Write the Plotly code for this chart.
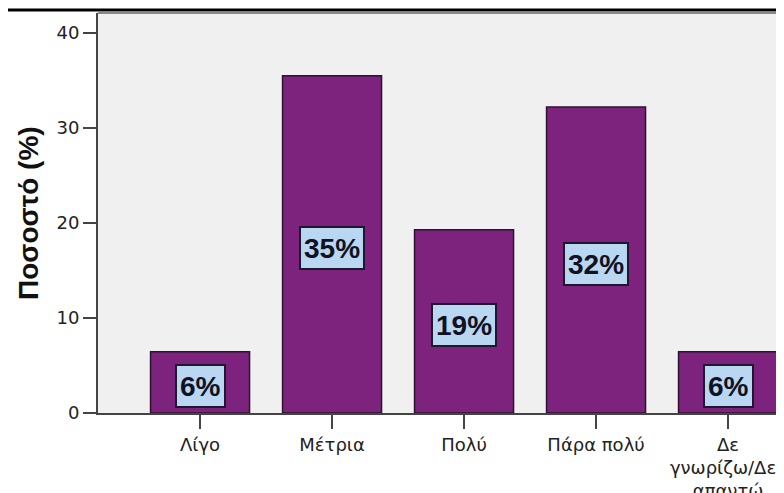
import plotly.graph_objects as go

categories = ["Λίγο", "Μέτρια", "Πολύ", "Πάρα πολύ", "Δε<br>γνωρίζω/Δεν<br>απαντώ"]
values = [6.45, 35.5, 19.3, 32.2, 6.45]
labels = ["6%", "35%", "19%", "32%", "6%"]
y_ticks = [0, 10, 20, 30, 40]
y_title = "Ποσοστό (%)"

# the page has an 8px body margin, so the figure is laid out in figure coords
OFF = 8
W, H = 784, 493 - OFF
ML, MT, MB = 98 - OFF, 13 - OFF, 80
PW = W - ML
PH = H - MT - MB
PX_PER_CAT = 132.0
PX_PER_UNIT = 9.5
TICK_FONT = "DejaVu Sans, Verdana, sans-serif"
BOLD_FONT = "Liberation Sans, Arial, sans-serif"

fig = go.Figure()
fig.add_trace(go.Bar(
    x=list(range(len(categories))),
    y=values,
    width=0.75,
    marker=dict(color="#7D237D", line=dict(color="#2A1430", width=1.5)),
    hoverinfo="skip",
))

for i, (v, t) in enumerate(zip(values, labels)):
    fig.add_annotation(
        x=i, y=v / 2, xref="x", yref="y", text=f"<b>{t}</b>",
        showarrow=False, yshift=-4, height=34,
        font=dict(family=BOLD_FONT, size=28, color="#111122"),
        bgcolor="#B9D7F0", bordercolor="#1C1830", borderwidth=2, borderpad=3,
    )

fig.add_annotation(
    x=(28 - OFF - ML) / PW, y=0.5, xref="paper", yref="paper", text=f"<b>{y_title}</b>",
    textangle=-90, showarrow=False, xanchor="center", yanchor="middle",
    font=dict(family=BOLD_FONT, size=28, color="#111111"),
)

# top black rule and plot top border
fig.add_shape(type="line", xref="paper", yref="paper",
              x0=-ML / PW, x1=1.0, y0=1 + (MT - 2) / PH, y1=1 + (MT - 2) / PH,
              line=dict(color="#000000", width=3))
fig.add_shape(type="line", xref="paper", yref="paper",
              x0=0, x1=1.0, y0=1, y1=1,
              line=dict(color="#888888", width=2))

fig.update_layout(
    width=W, height=H,
    margin=dict(l=ML, r=0, t=MT, b=MB, pad=0),
    paper_bgcolor="#FFFFFF", plot_bgcolor="#F0F0F0",
    showlegend=False,
    font=dict(family=TICK_FONT, size=18, color="#222222"),
)
fig.update_xaxes(
    range=[-0.773, -0.773 + PW / PX_PER_CAT],
    tickmode="array", tickvals=list(range(len(categories))), ticktext=categories,
    ticks="outside", ticklen=14, tickwidth=2, tickcolor="#444444",
    showline=True, linecolor="#444444", linewidth=2,
    showgrid=False, zeroline=False, fixedrange=True, automargin=False,
    tickfont=dict(family=TICK_FONT, size=18, color="#222222"),
)
fig.update_yaxes(
    range=[0, PH / PX_PER_UNIT],
    tickmode="array", tickvals=y_ticks,
    ticks="outside", ticklen=13, tickwidth=2, tickcolor="#444444",
    showline=True, linecolor="#444444", linewidth=2,
    showgrid=False, zeroline=False, fixedrange=True, automargin=False,
    tickfont=dict(family=TICK_FONT, size=18, color="#222222"),
)

fig.write_html("out.html")
